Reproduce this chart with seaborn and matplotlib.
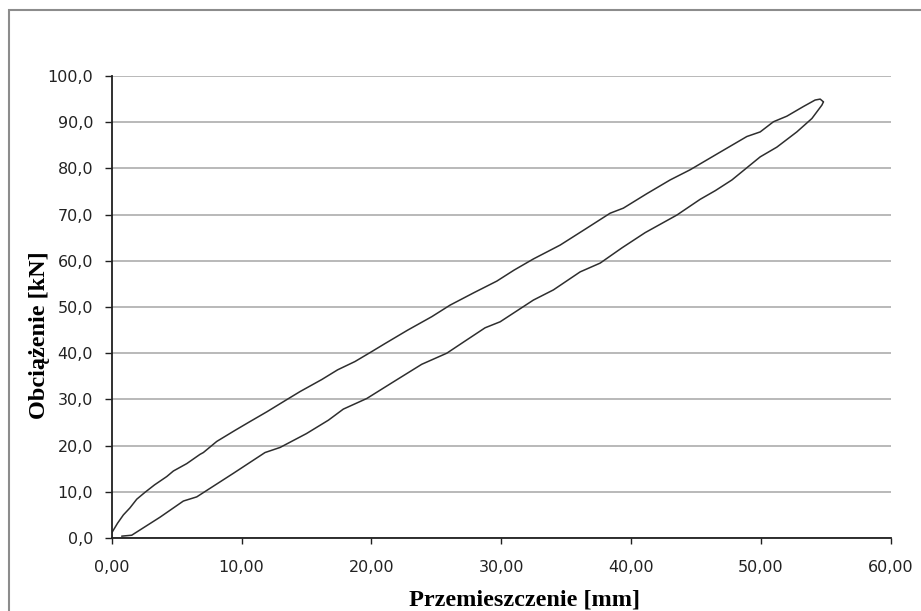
import matplotlib
matplotlib.use("Agg")
import matplotlib.pyplot as plt
import seaborn as sns
import pandas as pd
from matplotlib.patches import Rectangle
from matplotlib.ticker import FuncFormatter

# Loading branch (upper curve)
load_x = [0.0, 0.0, 0.45, 0.9, 1.4, 1.93, 2.57, 3.3, 4.24, 4.75, 5.78, 6.8, 7.06, 8.09,
          9.5, 10.65, 11.94, 13.22, 14.51, 16.18, 17.4, 18.74, 20.0, 21.06, 22.8, 24.65,
          26.06, 27.9, 29.66, 31.0, 32.48, 34.54, 36.5, 38.39, 39.41, 41.2, 43.01, 44.55,
          46.73, 48.92, 49.95, 50.97, 52.0, 53.28, 54.18, 54.57, 54.82]
load_y = [0.0, 1.1, 3.2, 5.0, 6.5, 8.4, 9.9, 11.5, 13.3, 14.5, 16.1, 18.1, 18.5, 20.9,
          23.3, 25.2, 27.3, 29.5, 31.7, 34.3, 36.4, 38.2, 40.3, 42.1, 45.0, 47.9,
          50.4, 53.1, 55.6, 58.0, 60.4, 63.4, 66.9, 70.3, 71.4, 74.5, 77.5, 79.7,
          83.3, 86.9, 87.9, 90.1, 91.3, 93.4, 94.8, 95.0, 94.4]

# Unloading branch (lower curve)
unload_x = [54.82, 54.70, 53.93, 52.77, 51.23, 49.95, 47.77, 46.5, 45.32, 43.53, 41.09,
            39.3, 37.62, 36.08, 34.02, 32.48, 29.92, 28.76, 27.2, 25.81, 23.88, 21.7,
            19.65, 17.84, 16.69, 15.0, 12.97, 11.81, 9.37, 6.55, 5.52, 3.72, 1.54, 0.77]
unload_y = [94.4, 93.7, 90.8, 87.9, 84.6, 82.5, 77.5, 75.2, 73.3, 69.9, 66.1,
            62.8, 59.5, 57.6, 53.7, 51.5, 46.8, 45.5, 42.6, 40.0, 37.6, 33.8,
            30.2, 27.9, 25.5, 22.6, 19.6, 18.5, 14.0, 8.9, 8.0, 4.5, 0.6, 0.4]

x_ticks = [0, 10, 20, 30, 40, 50, 60]
y_ticks = [0, 10, 20, 30, 40, 50, 60, 70, 80, 90, 100]
x_label = "Przemieszczenie [mm]"
y_label = "Obciążenie [kN]"

sns.set_theme(style="white")
plt.rcParams['font.family'] = ['DejaVu Sans']

W, H = 921, 611
fig = plt.figure(figsize=(W / 100, H / 100), dpi=100)
fig.patch.set_facecolor("white")
ax = fig.add_axes([111.7 / W, 1 - 538 / H, (890.7 - 111.7) / W, (538 - 76) / H])

df_load = pd.DataFrame({"x": load_x, "y": load_y})
df_unload = pd.DataFrame({"x": unload_x, "y": unload_y})
for d in (df_load, df_unload):
    sns.lineplot(data=d, x="x", y="y", sort=False, estimator=None, ax=ax,
                 color="#2e2e2e", linewidth=1.1)

ax.set_xlim(0, 60)
ax.set_ylim(0, 100)
ax.set_xticks(x_ticks)
ax.set_yticks(y_ticks)
ax.xaxis.set_major_formatter(FuncFormatter(lambda v, p: f"{v:.2f}".replace(".", ",")))
ax.yaxis.set_major_formatter(FuncFormatter(lambda v, p: f"{v:.1f}".replace(".", ",")))
ax.yaxis.grid(True, color="#adadad", linewidth=1.2)
ax.xaxis.grid(False)
ax.set_axisbelow(True)
for s in ("top", "right"):
    ax.spines[s].set_visible(False)
for s in ("left", "bottom"):
    ax.spines[s].set_color("#202020")
    ax.spines[s].set_linewidth(1.3)
ax.tick_params(axis="x", direction="out", length=4.5, width=1.0, color="#202020",
               pad=11, labelsize=11.5, labelcolor="#222222", bottom=True)
ax.tick_params(axis="y", direction="out", length=4.8, width=1.0, color="#202020",
               pad=8.5, labelsize=11.5, labelcolor="#222222", left=True)
ax.set_xlabel("")
ax.set_ylabel("")

fig.text(524 / W, 1 - 600 / H, x_label, ha="center", va="center",
         fontsize=17.5, fontweight="bold", family="Liberation Serif", color="black")
fig.text(40 / W, 1 - 335 / H, y_label, ha="center", va="center", rotation=90,
         fontsize=17.5, fontweight="bold", family="Liberation Serif", color="black")

fig.patches.append(Rectangle((9 / W, -0.2), 1.2, 1.2 - 10 / H, transform=fig.transFigure,
                             fill=False, edgecolor="#8c8c8c", linewidth=1.5))

fig.savefig("out.png", dpi=100, facecolor="white")
